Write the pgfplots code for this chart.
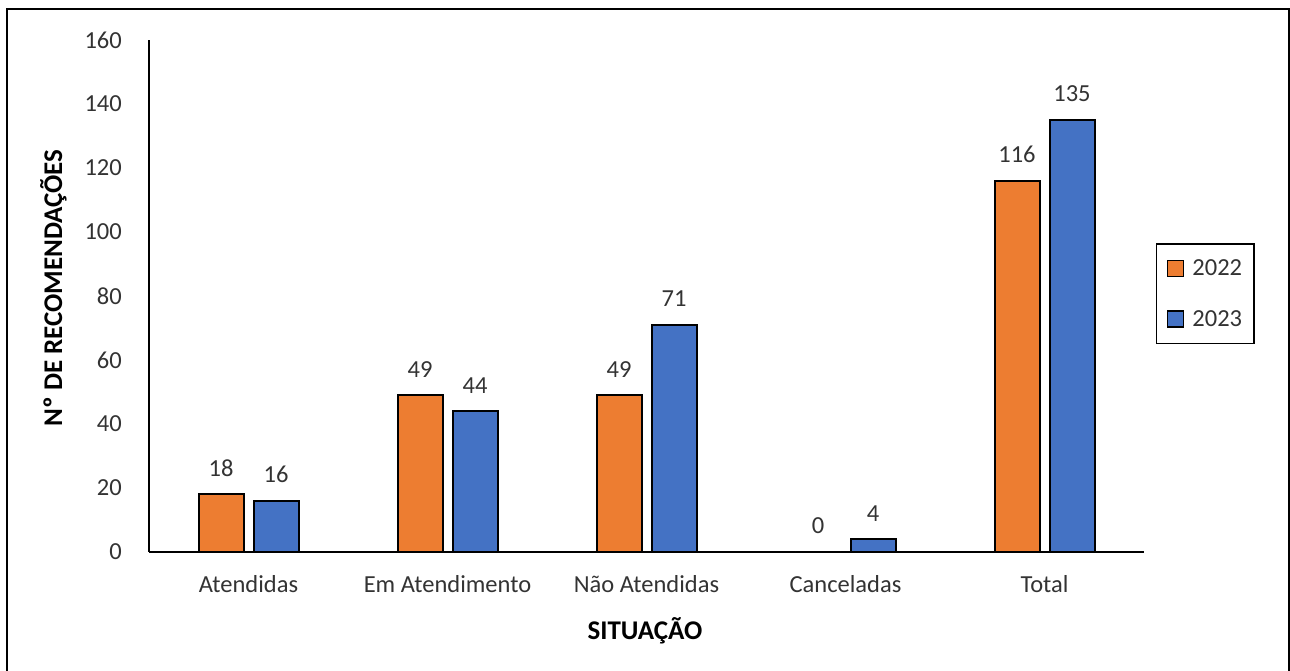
\documentclass[border=0pt]{standalone}
\usepackage{fontspec}
\setmainfont{Carlito}
\usepackage{pgfplots}
\pgfplotsset{compat=1.18}
\definecolor{barorange}{HTML}{ED7D31}
\definecolor{barblue}{HTML}{4472C4}
\definecolor{labelgray}{HTML}{333333}
\newcommand{\chartfont}{\fontsize{24.5}{29}\selectfont}
\newcommand{\titlefont}{\fontsize{27}{32}\selectfont\bfseries}
\begin{document}
\begin{tikzpicture}
\useasboundingbox (0pt,0pt) rectangle (1290pt,671pt);
% outer frame
\draw[line width=2.5pt] (7pt,-5pt) -- (7pt,662pt) -- (1289pt,662pt) -- (1289pt,-5pt);
\begin{axis}[
  at={(149pt,119pt)}, anchor=south west,
  scale only axis, width=995pt, height=512pt,
  xmin=-0.5, xmax=4.5, ymin=0, ymax=160,
  axis lines*=left,
  axis line style={line width=2pt, black},
  ybar=10pt, bar width=45pt,
  ytick={0,20,...,160},
  xtick={0,1,2,3,4},
  xticklabels={Atendidas, Em Atendimento, N\~ao Atendidas, Canceladas, Total},
  major tick length=0pt,
  tick label style={font=\chartfont, text=labelgray},
  /pgf/number format/assume math mode=true,
  yticklabel style={anchor=east, inner sep=0pt, xshift=-27pt},
  xticklabel style={anchor=base, inner sep=0pt, yshift=-41pt},
  nodes near coords,
  every node near coord/.append style={font=\chartfont, text=labelgray, anchor=south, inner sep=0pt, yshift=17pt},
  legend style={at={(rel axis cs:1.012,0.6035)}, anchor=north west,
    draw=black, line width=1.5pt, font=\chartfont, inner xsep=10pt, inner ysep=14pt,
    row sep=29pt, nodes={text=labelgray}},
  legend cell align=left,
  legend image code/.code={%
    \draw[#1, line width=1.5pt] (0pt,-8pt) rectangle (16pt,8pt);
    \path[draw=none, fill=none] (0pt,0pt) -- (23pt,0pt);},
  clip=false,
]
\addplot[fill=barorange, draw=black, line width=2pt] coordinates {(0,18) (1,49) (2,49) (3,0) (4,116)};
\addplot[fill=barblue, draw=black, line width=2pt] coordinates {(0,16) (1,44) (2,71) (3,4) (4,135)};
\legend{2022,2023}
\end{axis}
\node[rotate=90, anchor=base, font=\titlefont] at (62pt,383pt) {Nº DE RECOMENDAÇÕES};
\node[anchor=base, font=\titlefont] at (645pt,31pt) {SITUAÇÃO};
\end{tikzpicture}
\end{document}
